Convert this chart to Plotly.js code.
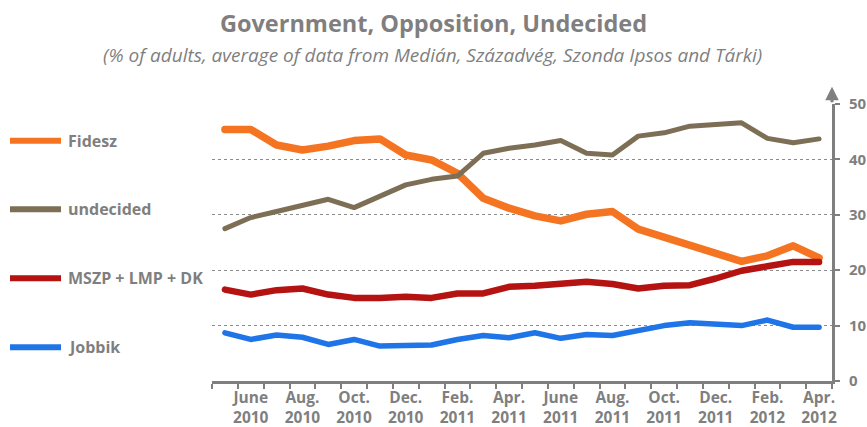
<!DOCTYPE html>
<html>
<head>
<meta charset="utf-8">
<script src="https://cdn.plot.ly/plotly-3.0.1.min.js"></script>
<style>
html,body{margin:0;padding:0;background:#fff;}
#chart{width:867px;height:427px;}
.scatterlayer path.js-line{stroke-linejoin:round;stroke-linecap:round;}
</style>
</head>
<body>
<div id="chart"></div>
<script>
// Monthly data, May 2010 - April 2012
var months = ['May 2010','June 2010','July 2010','Aug. 2010','Sep. 2010','Oct. 2010','Nov. 2010','Dec. 2010',
  'Jan. 2011','Feb. 2011','Mar. 2011','Apr. 2011','May 2011','June 2011','July 2011','Aug. 2011',
  'Sep. 2011','Oct. 2011','Nov. 2011','Dec. 2011','Jan. 2012','Feb. 2012','Mar. 2012','Apr. 2012'];
var fidesz    = [45.4,45.4,42.6,41.7,42.4,43.4,43.7,40.8,39.9,37.5,33.0,31.2,29.8,28.9,30.1,30.6,27.4,26.0,24.6,23.3,21.6,22.6,24.4,22.2];
var undecided = [27.5,29.5,30.6,31.6,32.8,31.3,33.4,35.4,36.4,37.0,41.1,42.0,42.6,43.4,41.1,40.8,44.2,44.8,46.0,46.3,46.6,43.8,43.0,43.7];
var mszp      = [16.5,15.6,16.4,16.7,15.6,15.0,15.0,15.2,15.0,15.8,15.8,17.0,17.2,17.5,17.9,17.5,16.7,17.2,17.3,18.5,19.9,20.7,21.5,21.5];
var jobbik    = [8.7,7.5,8.3,7.9,6.6,7.5,6.3,6.5,6.5,7.5,8.2,7.8,8.7,7.7,8.4,8.2,9.2,10.0,10.5,10.2,10.0,11.0,9.7,9.7];
var tickLabelIdx = [1,3,5,7,9,11,13,15,17,19,21,23];
var tickLabels = ['June<br>2010','Aug.<br>2010','Oct.<br>2010','Dec.<br>2010','Feb.<br>2011','Apr.<br>2011',
  'June<br>2011','Aug.<br>2011','Oct.<br>2011','Dec.<br>2011','Feb.<br>2012','Apr.<br>2012'];
var seriesNames  = ['Fidesz','undecided','MSZP + LMP + DK','Jobbik'];
var seriesColors = ['#f47421','#7d6f55','#b51212','#1f74e8'];
var seriesWidths = [7.5,5,6.5,5.5];
var seriesData   = [fidesz, undecided, mszp, jobbik];
var legendY      = [0.8675, 0.620, 0.3708, 0.1217];

var FONT = '"Open Sans", Lato, sans-serif';
var GRAY = '#7f7f7f';
var xIdx = months.map(function(_, i){ return i; });

var traces = seriesData.map(function(d, k){
  return {
    x: xIdx, y: d, name: seriesNames[k], type: 'scatter', mode: 'lines',
    line: {color: seriesColors[k], width: seriesWidths[k]},
    hoverinfo: 'x+y', showlegend: false
  };
});

var shapes = [], annotations = [];
seriesNames.forEach(function(n, k){
  shapes.push({type:'line', xref:'paper', yref:'paper', x0:-0.3258, x1:-0.2435, y0:legendY[k], y1:legendY[k],
    line:{color:seriesColors[k], width:6}});
  annotations.push({xref:'paper', yref:'paper', x:-0.2355, y:legendY[k], xanchor:'left', yanchor:'middle',
    text:n, showarrow:false, font:{family:FONT, size:16, color:GRAY, weight:'bold'}});
});
annotations.push({xref:'paper', yref:'paper', x:0.356, y:1.178, xanchor:'center', yanchor:'middle',
  text:'<i>(% of adults, average of data from Medián, Századvég, Szonda Ipsos and Tárki)</i>', showarrow:false,
  font:{family:FONT, size:19, color:GRAY}});
// arrow on top of the y axis
annotations.push({xref:'paper', yref:'paper', x:1, y:1.062, ax:0, ay:17, showarrow:true,
  arrowhead:2, arrowsize:0.9, arrowwidth:3, arrowcolor:GRAY, standoff:0, text:''});

var layout = {
  width: 867, height: 427,
  margin: {l:212, r:35, t:104, b:46},
  paper_bgcolor:'#fff', plot_bgcolor:'#fff',
  title: {text:'<b>Government, Opposition, Undecided</b>', xref:'container', x:0.5, y:0.945,
    yanchor:'middle', font:{family:FONT, size:23.5, color:GRAY}},
  xaxis: {
    range:[-0.5, 23.5], tickmode:'array', tickvals:tickLabelIdx, ticktext:tickLabels,
    ticks:'', showgrid:false, zeroline:false, showline:true, linecolor:GRAY, linewidth:3,
    tickfont:{family:FONT, size:15.5, color:GRAY, weight:'bold'},
    minor:{ticks:'outside', tick0:-0.5, dtick:1, ticklen:5, tickwidth:2, tickcolor:GRAY, showgrid:false},
    fixedrange:true
  },
  yaxis: {
    range:[0,50], side:'right', tickmode:'array', tickvals:[0,10,20,30,40,50],
    ticks:'outside', ticklen:5, tickwidth:2, tickcolor:GRAY,
    showline:true, linecolor:GRAY, linewidth:3, zeroline:false,
    showgrid:true, gridcolor:'#8c8c8c', gridwidth:1, griddash:'dot',
    ticklabelstandoff:6,
    tickfont:{family:FONT, size:15, color:GRAY, weight:'bold'},
    fixedrange:true
  },
  shapes: shapes,
  annotations: annotations,
  showlegend:false
};

Plotly.newPlot('chart', traces, layout, {displayModeBar:false, staticPlot:true});
</script>
</body>
</html>
